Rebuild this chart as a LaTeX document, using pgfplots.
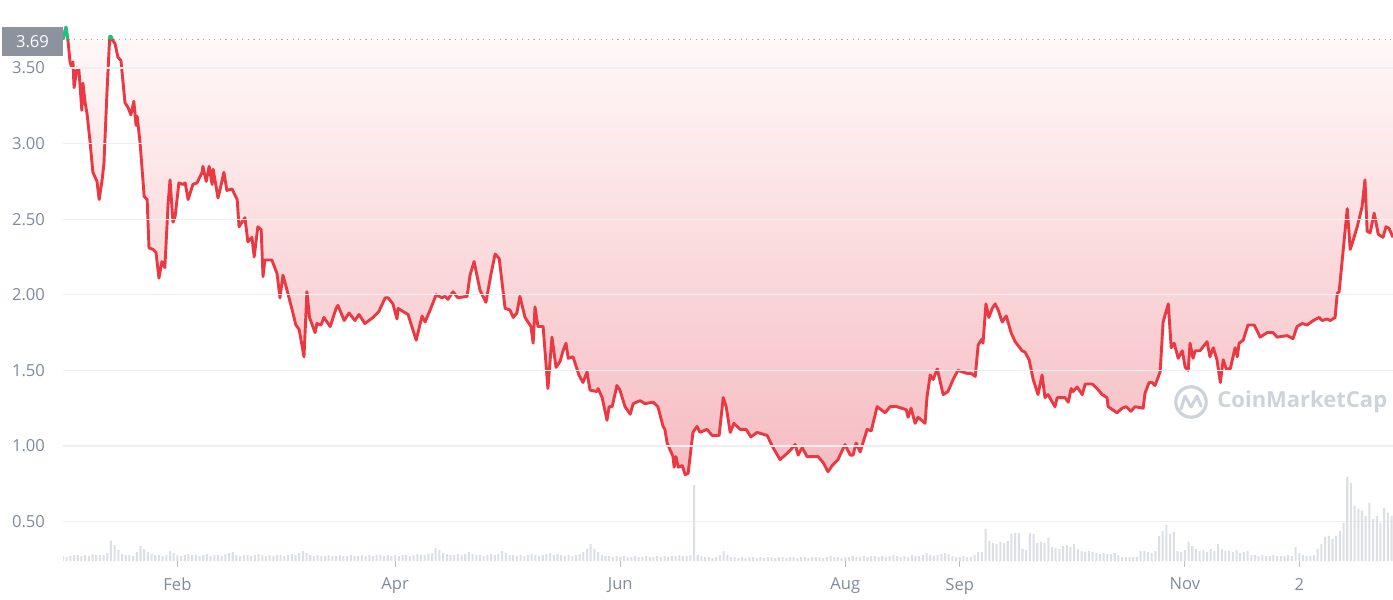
\documentclass[border=0pt]{standalone}
\usepackage{pgfplots}
\usepackage{pgfplotstable}
\pgfplotsset{compat=1.18}
\usepackage{fontspec}
\setmainfont{Open Sans}

\definecolor{cmcred}{HTML}{EA3943}
\definecolor{cmcgreen}{HTML}{16C784}
\definecolor{ticktext}{HTML}{808A9D}
\definecolor{tickc}{HTML}{B8BDC7}
\definecolor{gridc}{HTML}{EDEFF2}
\definecolor{volc}{HTML}{DCDFE6}
\definecolor{wm}{HTML}{CDD2DB}
\definecolor{tagbg}{HTML}{8C929E}
\definecolor{dotc}{HTML}{A3A9B3}
\definecolor{filltop}{HTML}{FFF8F8}
\definecolor{fillbot}{HTML}{F5BCC1}

% day of year, price
\pgfplotstableread[row sep=\\]{
day price\\
0 3.69\\ 0.8 3.77\\ 1.4 3.67\\ 1.9 3.54\\ 2.4 3.50\\ 2.7 3.54\\ 3.0 3.37\\ 3.8 3.50\\ 4.3 3.49\\ 5.1 3.22\\ 5.4 3.40\\ 6.0 3.27\\ 6.5 3.20\\ 7.3 3.02\\ 8.1 2.81\\ 9.2 2.75\\ 9.8 2.63\\ 10.6 2.76\\ 11.1 2.87\\ 11.9 3.33\\
12.5 3.63\\ 12.7 3.71\\ 13.0 3.71\\ 13.3 3.69\\ 14.1 3.66\\ 14.9 3.57\\ 15.7 3.55\\ 16.8 3.27\\ 17.6 3.24\\ 18.4 3.19\\ 19.2 3.28\\ 19.8 3.12\\ 20.1 3.18\\ 20.9 3.00\\ 22.0 2.65\\ 22.8 2.63\\ 23.3 2.31\\ 24.4 2.30\\ 25.2 2.28\\ 26.0 2.11\\
26.8 2.22\\ 27.6 2.18\\ 28.5 2.61\\ 29.0 2.76\\ 29.8 2.48\\ 30.4 2.52\\ 31.4 2.74\\ 32.5 2.73\\ 33.1 2.74\\ 33.9 2.63\\ 35.2 2.73\\ 36.3 2.74\\ 37.7 2.81\\ 37.9 2.85\\ 38.8 2.75\\ 39.6 2.85\\ 40.4 2.73\\ 40.7 2.83\\ 42.0 2.64\\ 42.5 2.69\\
43.6 2.81\\ 44.4 2.69\\ 45.8 2.70\\ 47.2 2.63\\ 47.7 2.45\\ 49.3 2.51\\ 50.1 2.35\\ 51.2 2.38\\ 51.8 2.25\\ 52.8 2.45\\ 53.7 2.43\\ 54.2 2.12\\ 54.7 2.23\\ 56.6 2.23\\ 58.0 2.14\\ 58.8 1.98\\ 59.6 2.13\\ 60.5 2.05\\ 62.1 1.90\\ 63.1 1.80\\
64.0 1.77\\ 65.3 1.59\\ 66.1 2.02\\ 66.8 1.85\\ 68.3 1.75\\ 68.8 1.81\\ 69.9 1.80\\ 70.7 1.85\\ 72.4 1.79\\ 74.0 1.91\\ 74.5 1.93\\ 76.2 1.83\\ 77.5 1.88\\ 79.1 1.83\\ 80.2 1.87\\ 81.8 1.81\\ 84.0 1.85\\ 85.6 1.89\\ 87.3 1.98\\ 88.1 1.98\\
89.4 1.94\\ 90.5 1.84\\ 90.8 1.91\\ 92.1 1.89\\ 93.5 1.87\\ 95.7 1.70\\ 97.3 1.86\\ 98.1 1.82\\ 99.5 1.90\\ 101.1 2.00\\ 102.7 1.98\\ 103.5 1.99\\ 104.3 1.97\\ 105.7 2.02\\ 107.0 1.98\\ 109.5 1.99\\ 110.3 2.13\\ 111.4 2.22\\ 113.0 2.03\\ 114.6 1.95\\
116.0 2.14\\ 117.1 2.27\\ 118.2 2.24\\ 119.8 1.91\\ 121.1 1.90\\ 122.0 1.85\\ 123.0 1.88\\ 123.8 1.99\\ 125.2 1.85\\ 126.8 1.79\\ 127.4 1.68\\ 127.9 1.92\\ 128.7 1.79\\ 130.1 1.79\\ 131.4 1.38\\ 132.5 1.72\\ 133.6 1.52\\ 134.7 1.56\\ 135.5 1.63\\ 136.3 1.68\\
136.9 1.58\\ 138.2 1.59\\ 139.8 1.47\\ 140.9 1.42\\ 142.0 1.49\\ 142.8 1.37\\ 144.7 1.36\\ 145.0 1.38\\ 146.1 1.32\\ 147.4 1.17\\ 148.0 1.26\\ 148.8 1.26\\ 150.1 1.40\\ 150.9 1.37\\ 152.3 1.26\\ 153.7 1.21\\ 154.5 1.28\\ 156.4 1.30\\ 157.7 1.28\\ 159.9 1.29\\
161.2 1.26\\ 162.6 1.13\\ 163.1 1.11\\ 163.7 1.02\\ 165.3 0.93\\ 165.6 0.86\\ 166.1 0.93\\ 166.7 0.86\\ 167.8 0.87\\ 168.6 0.81\\ 169.4 0.82\\ 170.7 1.09\\ 171.8 1.13\\ 172.6 1.09\\ 174.5 1.11\\ 175.9 1.07\\ 177.8 1.07\\ 178.9 1.32\\ 179.7 1.26\\ 180.8 1.09\\
181.8 1.15\\ 183.5 1.11\\ 185.1 1.11\\ 186.4 1.06\\ 188.1 1.09\\ 190.8 1.07\\ 192.4 0.99\\ 194.3 0.91\\ 195.7 0.94\\ 197.0 0.97\\ 198.4 1.01\\ 199.2 0.94\\ 200.3 0.99\\ 201.6 0.93\\ 204.6 0.93\\ 206.0 0.89\\ 207.3 0.83\\ 208.4 0.87\\ 210.0 0.91\\ 211.9 1.01\\
213.3 0.94\\ 214.1 0.94\\ 214.9 1.02\\ 216.0 0.96\\ 217.9 1.11\\ 219.0 1.10\\ 220.6 1.26\\ 222.8 1.22\\ 224.1 1.26\\ 226.0 1.26\\ 228.5 1.24\\ 229.0 1.19\\ 229.8 1.25\\ 230.9 1.15\\ 231.7 1.19\\ 233.6 1.15\\ 234.1 1.32\\ 235.0 1.47\\ 235.8 1.44\\ 236.9 1.51\\
238.5 1.34\\ 239.8 1.36\\ 241.2 1.44\\ 242.5 1.50\\ 245.0 1.48\\ 246.1 1.48\\ 247.2 1.46\\ 248.0 1.67\\ 249.1 1.71\\ 249.3 1.68\\ 250.1 1.94\\ 250.9 1.85\\ 251.8 1.91\\ 252.6 1.94\\ 253.4 1.90\\ 254.5 1.82\\ 255.6 1.86\\ 256.9 1.75\\ 258.0 1.69\\ 259.9 1.63\\
260.7 1.62\\ 261.8 1.57\\ 262.9 1.44\\ 264.2 1.34\\ 265.3 1.47\\ 266.1 1.32\\ 266.9 1.34\\ 268.8 1.26\\ 269.4 1.32\\ 271.5 1.32\\ 272.4 1.29\\ 273.2 1.38\\ 273.7 1.36\\ 274.8 1.39\\ 276.2 1.34\\ 277.0 1.41\\ 278.9 1.41\\ 280.2 1.38\\ 281.6 1.34\\ 282.9 1.32\\
283.2 1.26\\ 285.6 1.22\\ 287.0 1.25\\ 288.1 1.26\\ 289.4 1.23\\ 290.5 1.26\\ 292.7 1.25\\ 293.2 1.35\\ 294.3 1.42\\ 295.1 1.42\\ 295.9 1.40\\ 297.3 1.49\\ 298.1 1.82\\ 299.5 1.94\\ 300.3 1.65\\ 301.1 1.68\\ 302.2 1.58\\ 303.3 1.63\\ 304.1 1.52\\ 304.9 1.50\\
305.4 1.68\\ 306.2 1.58\\ 306.8 1.63\\ 308.1 1.63\\ 310.0 1.69\\ 310.8 1.59\\ 311.7 1.65\\ 312.7 1.57\\ 313.6 1.42\\ 314.4 1.57\\ 315.2 1.51\\ 316.3 1.51\\ 317.6 1.65\\ 318.2 1.59\\ 318.7 1.68\\ 319.8 1.70\\ 321.1 1.80\\ 322.8 1.80\\ 324.4 1.72\\ 326.3 1.75\\
327.9 1.75\\ 329.0 1.72\\ 331.7 1.73\\ 333.3 1.71\\ 334.4 1.79\\ 335.8 1.81\\ 337.1 1.80\\ 338.8 1.83\\ 340.4 1.85\\ 341.2 1.83\\ 342.5 1.84\\ 343.4 1.83\\ 344.7 1.85\\ 345.3 2.01\\ 345.8 2.02\\ 348.0 2.57\\ 348.8 2.30\\ 349.6 2.36\\ 350.7 2.45\\ 352.0 2.58\\
352.8 2.76\\ 353.4 2.42\\ 354.2 2.41\\ 355.3 2.54\\ 356.4 2.40\\ 357.7 2.38\\ 358.5 2.45\\ 359.3 2.44\\ 360.4 2.38\\
}\price

\pgfplotsset{cmcaxis/.style={
  at={(31.5pt,19.5pt)}, anchor=south west,
  scale only axis, width=665pt, height=268pt,
  xmin=0, xmax=360.4}}

\begin{document}
\begin{tikzpicture}[x=1pt,y=1pt]
\useasboundingbox (0,0) rectangle (696.5,300);

% pink gradient between the opening price (3.69) and the year's low (0.81)
\fill[top color=filltop, bottom color=fillbot] (31.5,280.36) rectangle (696.5,62.64);

% price axis: white below the line, grid on top
\begin{axis}[
  cmcaxis, axis on top,
  ymin=0.2394, ymax=3.7844,
  axis line style={draw=none},
  tick pos=left, tick align=outside,
  xtick={31,90,151,212,243,304,335},
  xticklabels={Feb,Apr,Jun,Aug,Sep,Nov,2},
  ytick={0.5,1,1.5,2,2.5,3,3.5},
  major tick length=3pt,
  xtick style={draw=tickc, line width=0.6pt},
  ytick style={draw=none},
  ymajorgrids, grid style={draw=gridc, line width=0.6pt},
  /pgf/number format/assume math mode=true,
  tick label style={font=\fontsize{8.3}{10}\selectfont, text=ticktext},
  y tick label style={/pgf/number format/fixed, /pgf/number format/fixed zerofill,
    /pgf/number format/precision=2, xshift=-2.5pt},
  x tick label style={yshift=-2pt},
]
\addplot[fill=white, draw=none] table[x=day, y=price] {\price} \closedcycle;
\addplot[draw=dotc, line width=0.5pt, dash pattern=on 0.6pt off 2.2pt] coordinates {(0,3.69)(360.4,3.69)};
\addplot[cmcred, line width=1.45pt, line join=round] table[x=day, y=price] {\price};
\addplot[cmcgreen, line width=1.45pt, line join=round] coordinates {(0,3.69)(0.8,3.77)(1.28,3.69)};
\addplot[cmcgreen, line width=1.45pt, line join=round] coordinates {(12.65,3.69)(12.7,3.71)(13.0,3.71)(13.3,3.69)};
\end{axis}

% volume (own scale, one unit = one pixel of the original)
\begin{axis}[cmcaxis, ymin=0, ymax=536, hide axis]
\addplot[ybar, bar width=0.55, fill=volc, draw=none] coordinates {
(0,5)(1,4)(2,5)(3,6)(4,6)(5,5)(6,6)(7,5)(8,7)(9,6)(10,6)(11,6)(12,8)(13,20)(14,16)(15,11)(16,7)(17,6)(18,6)(19,5)
(20,9)(21,15)(22,12)(23,9)(24,7)(25,6)(26,6)(27,5)(28,6)(29,10)(30,8)(31,6)(32,5)(33,6)(34,7)(35,6)(36,6)(37,5)(38,6)(39,7)
(40,5)(41,6)(42,6)(43,5)(44,7)(45,8)(46,9)(47,6)(48,5)(49,6)(50,6)(51,5)(52,6)(53,7)(54,6)(55,5)(56,6)(57,5)(58,6)(59,6)
(60,5)(61,6)(62,7)(63,6)(64,8)(65,10)(66,8)(67,6)(68,5)(69,6)(70,5)(71,5)(72,6)(73,5)(74,5)(75,6)(76,5)(77,5)(78,6)(79,5)
(80,5)(81,6)(82,5)(83,6)(84,5)(85,6)(86,6)(87,5)(88,6)(89,5)(90,6)(91,5)(92,6)(93,6)(94,5)(95,6)(96,7)(97,6)(98,6)(99,7)
(100,8)(101,13)(102,11)(103,8)(104,7)(105,6)(106,6)(107,7)(108,6)(109,7)(110,9)(111,7)(112,6)(113,6)(114,5)(115,6)(116,7)(117,6)(118,7)(119,10)
(120,8)(121,6)(122,6)(123,5)(124,6)(125,5)(126,6)(127,7)(128,6)(129,5)(130,6)(131,7)(132,8)(133,6)(134,7)(135,6)(136,5)(137,6)(138,5)(139,6)
(140,7)(141,9)(142,12)(143,17)(144,12)(145,9)(146,6)(147,5)(148,5)(149,4)(150,5)(151,4)(152,5)(153,4)(154,4)(155,5)(156,4)(157,4)(158,5)(159,4)
(160,4)(161,5)(162,4)(163,5)(164,4)(165,5)(166,5)(167,6)(168,5)(169,5)(170,6)(171,76)(172,6)(173,5)(174,4)(175,4)(176,3)(177,4)(178,6)(179,10)
(180,6)(181,4)(182,4)(183,3)(184,4)(185,3)(186,4)(187,4)(188,3)(189,4)(190,3)(191,4)(192,4)(193,3)(194,4)(195,4)(196,3)(197,4)(198,4)(199,3)
(200,4)(201,4)(202,3)(203,4)(204,4)(205,4)(206,3)(207,4)(208,5)(209,4)(210,4)(211,3)(212,4)(213,4)(214,5)(215,4)(216,4)(217,5)(218,4)(219,5)
(220,5)(221,4)(222,5)(223,4)(224,5)(225,6)(226,5)(227,4)(228,5)(229,4)(230,6)(231,5)(232,5)(233,6)(234,8)(235,6)(236,5)(237,6)(238,7)(239,8)
(240,7)(241,5)(242,4)(243,4)(244,5)(245,4)(246,4)(247,6)(248,9)(249,9)(250,32)(251,20)(252,18)(253,17)(254,19)(255,18)(256,20)(257,27)(258,28)(259,28)
(260,12)(261,11)(262,28)(263,27)(264,18)(265,19)(266,18)(267,23)(268,14)(269,13)(270,12)(271,15)(272,16)(273,14)(274,17)(275,12)(276,10)(277,9)(278,10)(279,9)
(280,8)(281,7)(282,8)(283,7)(284,7)(285,8)(286,6)(287,4)(288,4)(289,4)(290,4)(291,4)(292,10)(293,10)(294,9)(295,8)(296,10)(297,25)(298,30)(299,36)
(300,27)(301,29)(302,10)(303,9)(304,11)(305,19)(306,15)(307,12)(308,10)(309,11)(310,9)(311,12)(312,10)(313,17)(314,12)(315,10)(316,10)(317,9)(318,11)(319,8)
(320,9)(321,10)(322,6)(323,6)(324,5)(325,6)(326,5)(327,5)(328,6)(329,5)(330,5)(331,5)(332,6)(333,5)(334,14)(335,8)(336,6)(337,5)(338,5)(339,6)
(340,12)(341,17)(342,24)(343,25)(344,22)(345,25)(346,30)(347,38)(348,84)(349,78)(350,55)(351,52)(352,50)(353,45)(354,58)(355,42)(356,45)(357,38)(358,53)(359,48)(360,45)
};
\end{axis}

% current price tag
\node[fill=tagbg, text=white, minimum width=30.5pt, minimum height=14.5pt, inner sep=0pt,
      font=\fontsize{8.3}{10}\selectfont] at (16.25,279.25) {3.69};

% watermark
\draw[wm, line width=1.6pt] (595.5,99) circle (7.6);
\draw[wm, line width=1.5pt, line join=round, line cap=round]
  (590.5,95.5) -- (592.5,102) -- (595.5,96.5) -- (598.5,102) -- (600.5,97);
\node[anchor=west, text=wm, inner sep=0pt, font=\fontsize{11}{13}\selectfont\bfseries] at (608.5,99) {CoinMarketCap};
\end{tikzpicture}
\end{document}
